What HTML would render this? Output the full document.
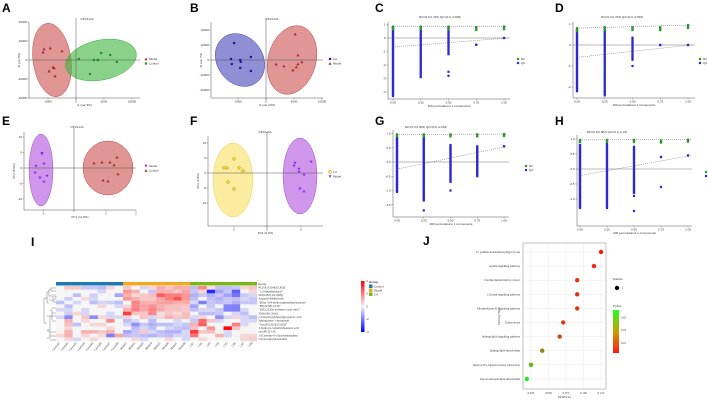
<!DOCTYPE html>
<html><head><meta charset="utf-8">
<style>
html,body{margin:0;padding:0;background:#fff;}
svg{display:block;font-family:"Liberation Sans",Arial,sans-serif;}
.t{font-size:3px;fill:#333;}
.lbl{font-size:12px;font-weight:bold;fill:#000;}
.s{font-family:"Liberation Serif",serif;}
</style></head>
<body>
<svg id="fig" width="708" height="401" viewBox="0 0 708 401" xmlns="http://www.w3.org/2000/svg"></svg>
<script>
// ===== Scatter (OPLS-DA) data =====
const aRedX=[-5.9,-5.7,-4.6,-2.5,-4.8,-4.1,-3.9,-3.75];
const aRedY=[8.4,11.6,12.6,9.5,-11.6,-7.4,-8.4,-16.8];
const aGreenX=[0.5,3.2,3.9,4.5,6.1,7.3,2.5,3.9];
const aGreenY=[1,0,0,7.4,5.3,-2.1,-14.7,0];
const bBlueX=[-5.7,-6.25,-6.1,-4.6,-4.5,-2.7,-4.6,-2.7];
const bBlueY=[11.3,0.7,-2.7,0,-1.3,2,-5.3,-7.3];
const bRedX=[5.2,5.7,6.4,5.7,5.4,4.8,3.2,1.8];
const bRedY=[17.3,3.3,-1.3,-2.7,-4.7,-6.7,-4,-2.7];
const ePurX=[-6.4,-6.4,-6,-7.6,-7.8,-5.4,-6.8,-6];
const ePurY=[4.8,4.5,1.3,0.6,-1.6,-2.6,-3.2,-4.5];
const eRedX=[4,5.6,7.2,8.6,8,8.8,5.8,6.8];
const eRedY=[1.6,1.9,1.9,3.5,1,-1.9,-3.9,-4.2];
const fYelX=[-8.6,-8,-6.6,-5.6,-4.8,-7.8,-6.6];
const fYelY=[1.7,1.7,4.7,1.7,0.7,-3,-5.3];
const fPurX=[5.6,5.4,8.8,6.4,6.4,7.4,6.6,7.4];
const fPurY=[3.3,2.3,3.7,1.3,0.3,-0.7,-5.3,-6.3];
// ===== Permutation data =====
const permX=[0,0.25,0.5,0.75,1];
const cR2=[0.85,0.85,0.85,0.8,0.85]; const cQ2min=[-4.3,-2.9,-1.2,-0.5,0]; const cQ2max=[0.8,0.8,0.8,-0.5,0];
const cOut=[[0.5,-2.5],[0.5,-2.8]];
const dR2=[0.8,0.85,0.85,0.85,0.95]; const dQ2min=[-2.2,-2.4,-0.7,0,0]; const dQ2max=[0.6,0.8,0.4,0,0];
const dOut=[[0.5,-1.0],[0.25,-2.2]];
const gR2=[0.97,0.97,0.97,0.97,0.98]; const gQ2min=[-1.05,-1.35,-0.7,-0.5,0.55]; const gQ2max=[0.9,0.9,0.6,0.55,0.55];
const gOut=[[0.25,-1.7],[0.5,-1.0],[0.75,-0.3]];
const hR2=[0.97,0.97,0.97,0.95,0.98]; const hQ2min=[-1.3,-1.3,-0.8,0.4,0.45]; const hQ2max=[0.8,0.85,0.75,0.4,0.45];
const hOut=[[0.5,-1.4],[0.5,-0.9],[0.75,-0.6]];
// ===== Heatmap data =====
const hmCols=["Control1","Control2","Control3","Control4","Control5","Control6","Control7","Control8","Model1","Model2","Model3","Model4","Model5","Model6","Model7","Model8","LH1","LH2","LH3","LH4","LH5","LH6","LH7","LH8"];
const hmRows=["PC(18:0/20:4(5Z,8Z))","\"1,3-dimethyluracil\"","SM(d18:0/16:1(9Z))","Aspartyl-Methionine","\"Ethyl 3-(4-hydroxyphenyl)propanoate\"","\"PE(22:6/P-18:0)\"","\"LPC(22:6)/cholesterol acyl ester\"","SM(d18:1/24:0)","2-(4-hydroxyphenyl)propanoic acid","Sphingosine-1-phosphate","\"LysoPC(20:3(5Z,8Z))\"","3-hydroxy-3-methylbutanoic acid","LysoPC(15:0)","2-(Cysteine-S-yl)acetaminophen","Glycerophosphocholine"];
const hmVals=[
[0,0.5,0.5,-0.5,-0.5,-0.6,0.3,0, 0.5,0,-0.3,0.3,0.9,0.5,0.9,0.8, -0.6,1.5,0.2,-0.6,-0.6,-0.5,0.3,0.5],
[0,0,0,0,0,-0.3,0,0, 1.2,0.8,0,-0.5,0.8,0.8,0.5,1.0, -0.5,0.3,-3.2,-1,-0.5,-2.2,0,0.3],
[0,0,-0.6,0,-0.4,0,0,-1.0, 0.8,0.3,0.5,0.6,2.2,1.6,1.6,1.2, -0.8,-0.5,-0.8,-0.5,-1,-1.8,-0.5,-0.3],
[0,-0.4,0,0.3,-0.3,0,0,0, 1.2,0.8,0.5,0.5,1.0,1.6,2.4,1.2, -0.6,0,-0.6,-0.8,-0.5,-0.6,-0.3,-0.5],
[-0.6,0,-0.3,0,-0.6,-0.3,-0.4,-0.6, 0,1.5,0.8,0.8,1.0,1.1,0.8,0.9, -0.3,-1.6,-0.5,-0.6,-0.5,-0.8,-0.5,-0.5],
[0,-0.6,0,0,0,0.3,0,-0.3, 0.3,1.4,1.0,1.3,0.8,0.6,0.6,0.5, -1.0,0,-0.5,0,-1.5,-1.6,0,0],
[-0.3,-0.3,0,-0.3,0,0,0,0, 0.8,1.6,1.0,1.5,0.9,0.6,0.6,0.5, -0.6,-0.3,-0.3,-0.5,-1.6,-1.6,-0.3,0],
[0,-0.4,0.3,-0.3,0,0,-0.3,0, 2.8,0.5,0.5,1.4,0.2,0.5,0.3,0.6, 0,-0.6,-0.6,-0.5,0,-0.3,-0.6,0],
[-0.3,-1.4,0,0.5,-1.4,0.3,-0.3,-0.3, 0.3,0,0.5,-0.3,0.3,0.8,0.5,0.6, -0.3,0.3,0,-1.3,-0.3,0.3,-0.3,-0.6],
[0,0.8,0,0.3,0,0,1.5,0, -0.6,-0.3,0,-0.6,0,0,-0.3,0, -0.5,2.0,0.5,-0.3,0,0,-0.3,-0.3],
[0,0.6,-0.6,0,0.3,0.3,0,0, -0.3,-1.3,-0.5,-0.8,-0.6,-0.6,-0.3,-0.5, 0.8,2.2,0,0,0,1.6,-0.3,0],
[0,0.3,0,0,0,0,0.3,0, 0,-0.6,-0.3,-0.6,0,-0.3,-0.5,-0.6, 0.6,0,1.2,0,3.8,0.5,0,0],
[0,0.8,0,0.8,0.8,0.5,0.8,0, -1.0,-0.5,0.5,-0.3,-0.6,-0.8,-0.8,-0.3, 2.8,0.5,0.6,0,-0.3,0,0,0],
[0.3,0.8,0,0.3,0,0.3,-1.6,1.0, -0.6,-0.5,-0.6,-0.8,-0.5,-0.6,-0.3,-0.3, 1.8,0,0,0.8,-0.3,0,0.3,0.3],
[0,0.3,-0.3,0,0.3,0,0,0, 0,0.3,-0.3,0,0,0.3,0,-0.3, 0,0.3,0,0,0,0,0.3,0.4]];
// ===== Enrichment data =====
const pathways=["Fc gamma R-mediated phagocytosis","Apelin signaling pathway","Choline metabolism in cancer","Calcium signaling pathway","Phospholipase D signaling pathway","Tuberculosis","Sphingolipid signaling pathway","Sphingolipid metabolism","Neuroactive ligand-receptor interaction","Glycerophospholipid metabolism"];
const richFactor=[0.125,0.115,0.091,0.091,0.091,0.071,0.066,0.041,0.025,0.019];
const pValues=[0.002,0.003,0.006,0.006,0.006,0.008,0.009,0.017,0.026,0.034];
const richTicks=[0.025,0.050,0.075,0.100,0.125];
const pTicks=[0.01,0.02,0.03];

const NS="http://www.w3.org/2000/svg";
const svg=document.getElementById('fig');
function mk(tag,attrs,parent){const e=document.createElementNS(NS,tag);for(const k in attrs)e.setAttribute(k,attrs[k]);(parent||svg).appendChild(e);return e;}
function txt(x,y,s,cls,extra,parent){const e=mk('text',Object.assign({x:x,y:y,class:cls||'t'},extra||{}),parent);e.textContent=s;return e;}

// panel letters
[["A",2,12],["B",190,12],["C",375,12],["D",555,12],["E",2,125],["F",190,125],["G",375,125],["H",555,125],["I",31,246],["J",423,245]].forEach(p=>{
 const e=txt(p[1],p[2],p[0],'lbl');
 
 
});

function tri(g,cx,cy,c,down){const d=down?`M${cx-1.6},${cy-1.3}L${cx+1.6},${cy-1.3}L${cx},${cy+1.4}Z`:`M${cx-1.6},${cy+1.3}L${cx+1.6},${cy+1.3}L${cx},${cy-1.4}Z`;const e=mk('path',{d:d,fill:c},g);return e;}
function sq(g,cx,cy,c){return mk('rect',{x:cx-1.1,y:cy-1.1,width:2.2,height:2.2,fill:c},g);}
function dia(g,cx,cy,c){return mk('path',{d:`M${cx},${cy-1.6}L${cx+1.6},${cy}L${cx},${cy+1.6}L${cx-1.6},${cy}Z`,fill:'none',stroke:c,'stroke-width':0.7},g);}

function scatter(cfg){
 const g=mk('g',{});  
 const sx=v=>cfg.ox+v*cfg.kx, sy=v=>cfg.oy-v*cfg.ky;
 txt(cfg.titleX,cfg.titleY,'OPLS-DA','t',{'text-anchor':'middle','font-size':'4'},g);
 cfg.ell.forEach(e=>{const el=mk('ellipse',{cx:e[0],cy:e[1],rx:e[2],ry:e[3],fill:e[4],'fill-opacity':0.6,stroke:e[5],'stroke-width':0.4,transform:`rotate(${e[6]} ${e[0]} ${e[1]})`},g);
   });
 mk('line',{x1:cfg.ax0,y1:cfg.axY,x2:cfg.ax1,y2:cfg.axY,stroke:'#555','stroke-width':0.5},g);
 mk('line',{x1:cfg.ax0,y1:cfg.ay0,x2:cfg.ax0,y2:cfg.axY,stroke:'#555','stroke-width':0.5},g);
 mk('line',{x1:cfg.ax0,y1:cfg.oy,x2:cfg.ax1,y2:cfg.oy,stroke:'#555','stroke-width':0.5},g);
 mk('line',{x1:cfg.ox,y1:cfg.ay0-4,x2:cfg.ox,y2:cfg.axY+2,stroke:'#555','stroke-width':0.5},g);
 cfg.yt.forEach(t=>{mk('line',{x1:cfg.ax0-1.5,y1:sy(t[0]),x2:cfg.ax0,y2:sy(t[0]),stroke:'#555','stroke-width':0.4},g);txt(cfg.ax0-2,sy(t[0])+1,t[1],'t',{'text-anchor':'end','font-size':'2.6'},g);});
 cfg.xt.forEach(t=>{mk('line',{x1:sx(t[0]),y1:cfg.axY,x2:sx(t[0]),y2:cfg.axY+1.5,stroke:'#555','stroke-width':0.4},g);txt(sx(t[0]),cfg.axY+4.5,t[1],'t',{'text-anchor':'middle','font-size':'2.6'},g);});
 txt((cfg.ax0+cfg.ax1)/2,cfg.axY+8,cfg.xl,'t',{'text-anchor':'middle','font-size':'2.4'},g);
 txt(cfg.ax0-9,(cfg.ay0+cfg.axY)/2,cfg.yl,'t',{'text-anchor':'middle','font-size':'2.4',transform:`rotate(-90 ${cfg.ax0-9} ${(cfg.ay0+cfg.axY)/2})`},g);
 cfg.series.forEach((s,si)=>{
   s.x.forEach((v,i)=>{const m=s.shape(g,sx(v),sy(s.y[i]),s.c);});
   const ly=cfg.legY+si*4.5; s.shape(g,cfg.legX,ly,s.c); txt(cfg.legX+3,ly+1,s.n,'t',{'font-size':'2.6'},g);
 });
}
const triUp=(g,x,y,c)=>tri(g,x,y,c,false), triDn=(g,x,y,c)=>tri(g,x,y,c,true);
scatter({name:'panel-a-opls-da',ox:76,oy:60,kx:5.6,ky:0.95,ax0:29,ax1:140,ay0:22,axY:98,titleX:87,titleY:20,
 ell:[[52,60,19,37,'#c9504e','#a33',-8],[101,60,36,20,'#3cb43c','#2a2',-12]],
 yt:[[40,'40000'],[20,'20000'],[0,'0'],[-20,'-20000'],[-40,'-40000']],xt:[[-5,'-5000'],[0,'0'],[5,'5000'],[10,'10000']],
 xl:'t1 (var 9%)',yl:'t0 (var 5%)',legX:146,legY:59,
 series:[{n:'Model',x:aRedX,y:aRedY,c:'#a52a2a',shape:triUp},{n:'Control',x:aGreenX,y:aGreenY,c:'#228b22',shape:sq}]});
scatter({name:'panel-b-opls-da',ox:266,oy:60,kx:5.6,ky:1.5,ax0:211,ax1:323,ay0:22,axY:98,titleX:272,titleY:20,
 ell:[[240,60,23,28,'#4444bb','#339',-35],[292,60,24,35,'#c9504e','#a33',15]],
 yt:[[20,'20000'],[10,'10000'],[0,'0'],[-10,'-10000'],[-20,'-20000']],xt:[[-5,'-5000'],[0,'0'],[5,'5000'],[10,'10000']],
 xl:'t1 (var 14%)',yl:'t0 (var 7%)',legX:330,legY:59,
 series:[{n:'LH',x:bBlueX,y:bBlueY,c:'#1a1a9a',shape:sq},{n:'Model',x:bRedX,y:bRedY,c:'#a52a2a',shape:triUp}]});
scatter({name:'panel-e-opls-da',ox:74,oy:168,kx:5,ky:3.1,ax0:24,ax1:136,ay0:132,axY:210,titleX:77,titleY:128,
 ell:[[41,170,12,36,'#b050e0','#83b',0],[108,168,25,27,'#c9504e','#a33',0]],
 yt:[[10,'10'],[5,'5'],[0,'0'],[-5,'-5'],[-10,'-10']],xt:[[-6.1,'0'],[6.4,'1'],[12.4,'2']],
 xl:'PC1 (11.9%)',yl:'PC2 (5.5%)',legX:146,legY:166,
 series:[{n:'Model',x:ePurX,y:ePurY,c:'#8b2be2',shape:triDn},{n:'Control',x:eRedX,y:eRedY,c:'#a52a2a',shape:triUp}]});
scatter({name:'panel-f-opls-da',ox:267,oy:173,kx:5,ky:3,ax0:208,ax1:323,ay0:136,axY:226,titleX:265,titleY:133,
 ell:[[233,180,20,37,'#f8e060','#dc4',0],[300,176,17,38,'#b050e0','#83b',0]],
 yt:[[10,'10'],[5,'5'],[0,'0'],[-5,'-5'],[-10,'-10']],xt:[[-6.6,'0'],[0,'0'],[6.8,'0']],
 xl:'PC1 (9.4%)',yl:'PC2 (4.8%)',legX:330,legY:172,
 series:[{n:'LH',x:fYelX,y:fYelY,c:'#c8a800',shape:dia},{n:'Model',x:fPurX,y:fPurY,c:'#8b2be2',shape:triDn}]});

function perm(cfg){
 const g=mk('g',{});  
 const sx=v=>cfg.x0+v*(cfg.x1-cfg.x0), sy=v=>cfg.yZero-v*cfg.ky;
 txt(cfg.tx,cfg.ty,cfg.title,'t',{'text-anchor':'middle','font-size':'2.8'},g);
 mk('line',{x1:cfg.ax0,y1:cfg.axY,x2:cfg.ax1,y2:cfg.axY,stroke:'#555','stroke-width':0.5},g);
 mk('line',{x1:cfg.ax0,y1:cfg.ay0,x2:cfg.ax0,y2:cfg.axY,stroke:'#555','stroke-width':0.5},g);
 mk('line',{x1:cfg.ax0,y1:sy(0),x2:cfg.ax1,y2:sy(0),stroke:'#777','stroke-width':0.6},g);
 mk('rect',{x:sx(0)-1.5,y:sy(Math.max(...cfg.qmax)),width:3,height:sy(cfg.qmin[0])-sy(Math.max(...cfg.qmax)),fill:'#ddd'},g);
 cfg.yt.forEach(t=>{mk('line',{x1:cfg.ax0-1.5,y1:sy(t),x2:cfg.ax0,y2:sy(t),stroke:'#555','stroke-width':0.4},g);txt(cfg.ax0-2.5,sy(t)+1,cfg.ytl(t),'t',{'text-anchor':'end','font-size':'2.6'},g);});
 permX.forEach(v=>{mk('line',{x1:sx(v),y1:cfg.axY,x2:sx(v),y2:cfg.axY+1.5,stroke:'#555','stroke-width':0.4},g);txt(sx(v),cfg.axY+4.5,v.toFixed(2),'t',{'text-anchor':'middle','font-size':'2.6'},g);});
 txt((cfg.ax0+cfg.ax1)/2,cfg.axY+8,'200 permutations 1 components','t',{'text-anchor':'middle','font-size':'2.4'},g);
 permX.forEach((v,i)=>{
   for(let q=cfg.qmin[i];q<=cfg.qmax[i]+1e-9;q+=cfg.step){const r=sq(g,sx(v),sy(q),'#2a2ad0');}
   if(cfg.qmin[i]==cfg.qmax[i]) sq(g,sx(v),sy(cfg.qmin[i]),'#2a2ad0');
   const top=cfg.r2[i]; for(let q=top-cfg.step*2;q<=top+1e-9;q+=cfg.step/2){const r=sq(g,sx(v),sy(q),'#2e9a2e');}
 });
 cfg.out.forEach(o=>sq(g,sx(o[0]),sy(o[1]),'#2a2ad0'));
 mk('line',{x1:sx(0),y1:sy(cfg.r2[0]),x2:sx(1)+3,y2:sy(cfg.r2[4]),stroke:'#444','stroke-width':0.4,'stroke-dasharray':'1 1'},g);
 mk('line',{x1:sx(0),y1:sy(cfg.q2int),x2:sx(1)+3,y2:sy(cfg.qmax[4]),stroke:'#444','stroke-width':0.4,'stroke-dasharray':'1 1'},g);
 sq(g,cfg.legX,cfg.legY,'#2e9a2e');txt(cfg.legX+3,cfg.legY+1,'R2','t',{'font-size':'2.6'},g);
 sq(g,cfg.legX,cfg.legY+4,'#2a2ad0');txt(cfg.legX+3,cfg.legY+5,'Q2','t',{'font-size':'2.6'},g);
}
perm({name:'panel-c-permutation',title:'R2=(0.0,0.746)   Q2=(0.0,-0.665)',tx:440,ty:18,x0:393,x1:504,yZero:38,ky:13.5,ax0:388,ax1:510,ay0:22,axY:99,
 r2:cR2,qmin:cQ2min,qmax:cQ2max,out:cOut,q2int:-0.67,step:0.1,yt:[1,0,-1,-2,-3,-4],ytl:t=>String(t),legX:518,legY:59});
perm({name:'panel-d-permutation',title:'R2=(0.0,0.703)   Q2=(0.0,-0.594)',tx:622,ty:18,x0:577,x1:688,yZero:45,ky:21,ax0:573,ax1:695,ay0:22,axY:98,
 r2:dR2,qmin:dQ2min,qmax:dQ2max,out:dOut,q2int:-0.59,step:0.07,yt:[1,0,-1,-2],ytl:t=>String(t),legX:700,legY:59});
perm({name:'panel-g-permutation',title:'R2=(0.0,0.909)   Q2=(0.0,-0.254)',tx:426,ty:128,x0:397,x1:504,yZero:162,ky:28.5,ax0:393,ax1:509,ay0:130,axY:217,
 r2:gR2,qmin:gQ2min,qmax:gQ2max,out:gOut,q2int:-0.25,step:0.035,yt:[1,0.5,0,-0.5,-1,-1.5],ytl:t=>t.toFixed(1),legX:526,legY:166});
perm({name:'panel-h-permutation',title:'R2=(0.0,0.802)   Q2=(0.0,-0.22)',tx:607,ty:133,x0:580,x1:688,yZero:169,ky:30,ax0:577,ax1:692,ay0:135,axY:226,
 r2:hR2,qmin:hQ2min,qmax:hQ2max,out:hOut,q2int:-0.22,step:0.035,yt:[1,0.5,0,-0.5,-1],ytl:t=>t.toFixed(1),legX:706,legY:172});

// ===== Heatmap =====
(function(){
 const g=mk('g',{});  
 const x0=56,x1=257,y0=286,rh=3.67,cw=(x1-x0)/hmCols.length;
 function col(v){const t=Math.max(-1,Math.min(1,v/4));
  if(t>=0){const k=Math.pow(t,0.8);return `rgb(${Math.round(245+10*k)},${Math.round(245-245*k)},${Math.round(245-245*k)})`;}
  const k=Math.pow(-t,0.8);return `rgb(${Math.round(245-245*k)},${Math.round(245-245*k)},${Math.round(245+10*k)})`;}
 const gc=['#1f77b4','#f5a623','#7cb518'];
 [0,1,2].forEach(k=>mk('rect',{x:x0+k*8*cw,y:282,width:8*cw,height:3.5,fill:gc[k]},g));
 txt(x1+1,285,'Group','t',{'font-size':'2.6'},g);
 hmVals.forEach((row,r)=>{row.forEach((v,c)=>{const e=mk('rect',{x:x0+c*cw,y:y0+r*rh,width:cw+0.1,height:rh+0.1,fill:col(v)},g);
   });
   txt(x1+1.5,y0+r*rh+2.7,hmRows[r],'t s',{'font-size':'2.6'},g);});
 hmCols.forEach((c,i)=>{const cx=x0+(i+0.5)*cw,cy=y0+hmRows.length*rh+2;txt(cx,cy,c,'t s',{'text-anchor':'end','font-size':'2.6',transform:`rotate(-50 ${cx} ${cy})`},g);});
 // dendrogram
 const d='M56,288 H51 V291 H56 M51,289.5 H49 V296 H51 M51,295 H56 M51,297 H56 V296 M49,292 H47 V303 H49 M49,300 H53 M53,299 H56 M53,302 H56 M53,299 V302 M47,298 H44 V323 H47 M47,316 H50 V330 H47 M50,316 H56 M50,310 H52 V320 M52,308 H56 M52,313 H56 M52,321 H56 M47,331 H50 V338 H47 M50,332 H56 M50,336 H56 M50,340 H56';
 mk('path',{d:d,fill:'none',stroke:'#555','stroke-width':0.4},g);
 // colour bar
 const lg=mk('linearGradient',{id:'hmg',x1:0,y1:0,x2:0,y2:1},mk('defs',{},g));
 [['0%','#ff0000'],['50%','#f5f5f5'],['100%','#0000ff']].forEach(s=>mk('stop',{offset:s[0],'stop-color':s[1]},lg));
 const cb=mk('rect',{x:361,y:281,width:3.5,height:51,fill:'url(#hmg)'},g);
 [[4,281],[2,293.5],[0,306.5],[-2,319],[-4,332]].forEach(t=>txt(366,t[1]+1,String(t[0]),'t',{'font-size':'2.6'},g));
 txt(369,283,'Group','t',{'font-size':'2.6','font-weight':'bold'},g);
 ['Control','Model','LH'].forEach((n,k)=>{mk('rect',{x:369,y:284.5+k*4,width:3.5,height:3.5,fill:gc[k]},g);txt(374,287.5+k*4,n,'t',{'font-size':'2.6'},g);});
})();

// ===== Enrichment bubble plot =====
(function(){
 const g=mk('g',{});  
 const px0=523,px1=606,py0=243,py1=389;
 const sx=v=>531+(v-0.025)/0.1*70, sy=i=>252+i*14.1;
 mk('rect',{x:px0,y:py0,width:px1-px0,height:py1-py0,fill:'#fff',stroke:'#888','stroke-width':0.5},g);
 richTicks.forEach(t=>{mk('line',{x1:sx(t),y1:py0,x2:sx(t),y2:py1,stroke:'#e6e6e6','stroke-width':0.4},g);
   txt(sx(t),py1+5,t.toFixed(3),'t s',{'text-anchor':'middle','font-size':'3'},g);});
 pathways.forEach((p,i)=>{mk('line',{x1:px0,y1:sy(i),x2:px1,y2:sy(i),stroke:'#e6e6e6','stroke-width':0.4},g);
   txt(px0-3,sy(i)+1,p,'t s',{'text-anchor':'end','font-size':'3'},g);});
 function pc(p){const t=Math.min(1,Math.max(0,(p-0.001)/0.034));return `rgb(${Math.round(255-t*225)},${Math.round(20+t*225)},20)`;}
 richFactor.forEach((v,i)=>{const c=mk('circle',{cx:sx(v),cy:sy(i),r:2.2,fill:pc(pValues[i])},g);
   });
 txt((px0+px1)/2,py1+9,'RichFactor','t s',{'text-anchor':'middle','font-size':'3.3'},g);
 txt(px0-23,(py0+py1)/2,'Pathway/Term','t s',{'text-anchor':'middle','font-size':'3.3',transform:`rotate(-90 ${px0-23} ${(py0+py1)/2})`},g);
 txt(613,280,'Number','t s',{'font-size':'3.3'},g);
 mk('circle',{cx:617,cy:288,r:2.2,fill:'#000'},g);txt(622,289,'1','t s',{'font-size':'3'},g);
 txt(613,307,'Pvalue','t s',{'font-size':'3.3'},g);
 const lg=mk('linearGradient',{id:'pg',x1:0,y1:0,x2:0,y2:1},mk('defs',{},g));
 [['0%','#22ff22'],['50%','#c8a000'],['100%','#ff1a1a']].forEach(s=>mk('stop',{offset:s[0],'stop-color':s[1]},lg));
 const pb=mk('rect',{x:613,y:310,width:6,height:43,fill:'url(#pg)'},g);
 pTicks.forEach(t=>{const y=353-(t-0.002)/0.034*43;txt(621,y+1,t.toFixed(2),'t s',{'font-size':'3'},g);});
})();
</script>
</body></html>
